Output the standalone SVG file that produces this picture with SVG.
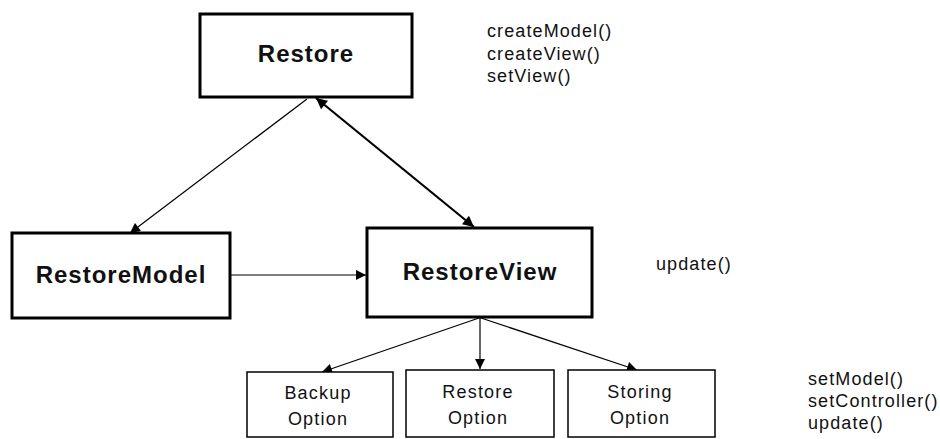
<svg xmlns="http://www.w3.org/2000/svg" width="940" height="439" viewBox="0 0 940 439">
<style>
.big{fill:#fff;stroke:#000;stroke-width:3}
.small{fill:#fff;stroke:#000;stroke-width:1.5}
.lbl{font-family:"Liberation Sans",Arial,sans-serif;font-weight:bold;font-size:24px;letter-spacing:1px;text-anchor:middle;fill:#111}
.opt{font-family:"Liberation Sans",Arial,sans-serif;font-size:18px;letter-spacing:1.2px;text-anchor:middle;fill:#111}
.note{font-family:"Liberation Sans",Arial,sans-serif;font-size:18px;letter-spacing:1.1px;fill:#111}
.c{stroke:#000;stroke-width:1.2;fill:none}
.c2{stroke:#000;stroke-width:2.2;fill:none}
</style>
<defs>
<marker id="ah" viewBox="0 0 10 10" refX="10" refY="5" markerWidth="11" markerHeight="10" markerUnits="userSpaceOnUse" orient="auto-start-reverse">
<path d="M0,0 L10,5 L0,10 Z" fill="#000"/>
</marker>
<marker id="ah2" viewBox="0 0 10 10" refX="10" refY="5" markerWidth="13" markerHeight="11" markerUnits="userSpaceOnUse" orient="auto-start-reverse">
<path d="M0,0 L10,5 L0,10 Z" fill="#000"/>
</marker>
</defs>
<g id="connectors">
<line class="c" x1="307" y1="99" x2="130" y2="233" marker-end="url(#ah)"/>
<line class="c2" x1="316" y1="98" x2="474" y2="227" marker-start="url(#ah2)" marker-end="url(#ah2)"/>
<line class="c" x1="231" y1="275" x2="366" y2="275" marker-end="url(#ah)"/>
<line class="c" x1="479" y1="318" x2="322" y2="372" marker-end="url(#ah)"/>
<line class="c" x1="480" y1="318" x2="480" y2="369" marker-end="url(#ah)"/>
<line class="c" x1="481" y1="318" x2="637" y2="370" marker-end="url(#ah)"/>
</g>
<g id="restore">
<rect class="big" x="200" y="14" width="212" height="83"/>
<text class="lbl" x="306" y="62">Restore</text>
</g>
<g id="restoreModel">
<rect class="big" x="12" y="233" width="218" height="85"/>
<text class="lbl" x="121" y="283">RestoreModel</text>
</g>
<g id="restoreView">
<rect class="big" x="367" y="228" width="225" height="89"/>
<text class="lbl" x="480" y="280">RestoreView</text>
</g>
<g id="backupOption">
<rect class="small" x="247" y="372" width="146" height="65"/>
<text class="opt" x="318" y="399">Backup</text>
<text class="opt" x="318" y="425">Option</text>
</g>
<g id="restoreOption">
<rect class="small" x="406" y="370" width="148" height="67"/>
<text class="opt" x="478" y="398">Restore</text>
<text class="opt" x="478" y="424">Option</text>
</g>
<g id="storingOption">
<rect class="small" x="568" y="370" width="147" height="67"/>
<text class="opt" x="640" y="398">Storing</text>
<text class="opt" x="640" y="424">Option</text>
</g>
<g id="notes">
<text class="note" x="487" y="37">createModel()</text>
<text class="note" x="487" y="60">createView()</text>
<text class="note" x="487" y="82">setView()</text>
<text class="note" x="656" y="270">update()</text>
<text class="note" x="808" y="385">setModel()</text>
<text class="note" x="808" y="407">setController()</text>
<text class="note" x="808" y="429">update()</text>
</g>
</svg>
